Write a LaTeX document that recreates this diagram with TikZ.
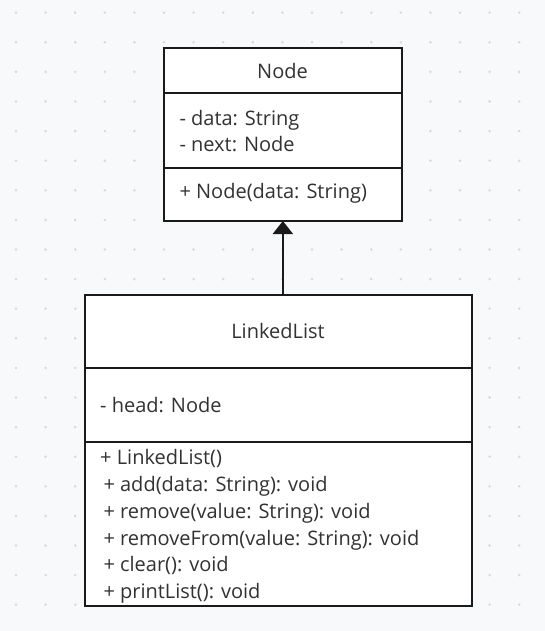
\documentclass[tikz,border=0pt]{standalone}
\usepackage{fontspec}
\setmainfont{Open Sans}
\usetikzlibrary{arrows.meta}
\definecolor{bg}{RGB}{248,249,250}
\definecolor{dotc}{RGB}{215,217,220}
\definecolor{txt}{RGB}{50,50,50}
\definecolor{edge}{RGB}{26,26,26}
\begin{document}
\begin{tikzpicture}[x=1pt,y=-1pt,
  comp/.style={draw=edge, line width=2pt, fill=white, inner sep=0pt, outer sep=0pt},
  lbl/.style={text=txt, inner sep=0pt, font=\fontsize{20}{23}\selectfont, anchor=base},
  lft/.style={lbl, anchor=base west}]
\fill[bg] (0,0) rectangle (545,631);
\useasboundingbox (0,0) rectangle (545,631);
\foreach \i in {0,...,18}
  \foreach \j in {0,...,21}
    \fill[dotc] (16+29.6*\i, 12.7+29.6*\j) circle (1.4pt);
% Node class
\node[comp, minimum width=237.7pt, minimum height=44.4pt] (nhead) at (282.85,70.5) {};
\node[comp, minimum width=237.7pt, minimum height=75.6pt] (nattr) at (282.85,130.5) {};
\node[comp, minimum width=237.7pt, minimum height=52.7pt] (nops) at (282.85,194.65) {};
\node[lbl] (ntitle) at (282.5,79) {Node};
\node[lft] (na1) at (179.3,126) {- data: String};
\node[lft] (na2) at (179.3,151.7) {- next: Node};
\node[lft] (no1) at (179.3,198.3) {+ Node(data: String)};
% LinkedList class
\node[comp, minimum width=386.7pt, minimum height=73.3pt] (lhead) at (278.35,331.65) {};
\node[comp, minimum width=386.7pt, minimum height=73.4pt] (lattr) at (278.35,405) {};
\node[comp, minimum width=386.7pt, minimum height=164pt] (lops) at (278.35,523.7) {};
\node[lbl] (ltitle) at (278,338.3) {LinkedList};
\node[lft] (la1) at (100,412.3) {- head: Node};
\node[lft] (lo1) at (100,464.9) {+ LinkedList()};
\node[lft] (lo2) at (103.3,491.6) {+ add(data: String): void};
\node[lft] (lo3) at (103.3,518.3) {+ remove(value: String): void};
\node[lft] (lo4) at (103.3,545) {+ removeFrom(value: String): void};
\node[lft] (lo5) at (103.3,571.7) {+ clear(): void};
\node[lft] (lo6) at (103.3,598.4) {+ printList(): void};
% inheritance arrow
\draw[edge, line width=2pt, -{Triangle[length=13pt,width=20pt]}] (lhead.north -| nops.south) -- (nops.south);
\end{tikzpicture}
\end{document}
